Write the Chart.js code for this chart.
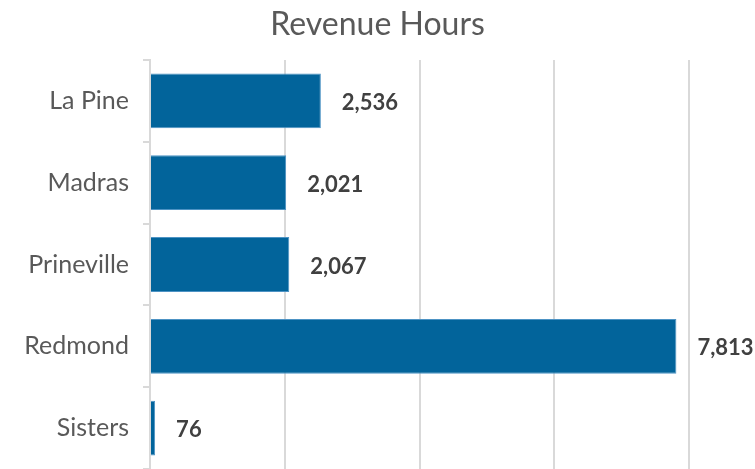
<!DOCTYPE html>
<html>
<head>
<meta charset="utf-8">
<script src="https://cdn.jsdelivr.net/npm/chart.js@4"></script>
<style>
  html, body { margin: 0; padding: 0; background: #fff; }
  #wrap { width: 755px; height: 469px; }
</style>
</head>
<body>
<div id="wrap"><canvas id="chart" width="755" height="469"></canvas></div>
<script>
// Revenue hours by community
const chartTitle = 'Revenue Hours';
const categories = ['La Pine', 'Madras', 'Prineville', 'Redmond', 'Sisters'];
const revenueHours = [2536, 2021, 2067, 7813, 76];
const xTicks = [0, 2000, 4000, 6000, 8000];

const FONT = "Lato, 'Open Sans', sans-serif";

// Title centred on the whole canvas, plus value labels beside the bars
const extras = {
    id: 'extras',
    afterDatasetsDraw(chart) {
        const ctx = chart.ctx;
        const meta = chart.getDatasetMeta(0);
        ctx.save();
        ctx.font = "bold 22px " + FONT;
        ctx.fillStyle = '#404040';
        ctx.textAlign = 'left';
        ctx.textBaseline = 'middle';
        meta.data.forEach((bar, i) => {
            const txt = revenueHours[i].toLocaleString('en-US');
            ctx.fillText(txt, bar.x + 21, bar.y + 2);
        });

        ctx.font = "32px " + FONT;
        ctx.fillStyle = '#595959';
        ctx.textAlign = 'center';
        ctx.fillText(chartTitle, chart.width / 2, 25);
        ctx.restore();
    }
};

new Chart(document.getElementById('chart'), {
    type: 'bar',
    data: {
        labels: categories,
        datasets: [{
            data: revenueHours,
            backgroundColor: '#02649b',
            borderColor: '#4d93c4',
            borderWidth: 1,
            barPercentage: 0.67,
            categoryPercentage: 1
        }]
    },
    options: {
        indexAxis: 'y',
        responsive: false,
        animation: false,
        layout: { padding: { left: 0, right: 66, top: 60, bottom: 0 } },
        scales: {
            x: {
                min: xTicks[0],
                max: xTicks[xTicks.length - 1],
                afterBuildTicks: scale => {
                    scale.ticks = xTicks.map(v => ({ value: v }));
                },
                afterFit: scale => {
                    scale.height = 0;
                    scale.paddingLeft = 0;
                    scale.paddingRight = 0;
                },
                ticks: { display: false },
                border: { display: false },
                grid: { color: '#d9d9d9', lineWidth: 2, drawTicks: false }
            },
            y: {
                afterFit: scale => {
                    scale.width = 150;
                    scale.paddingTop = 0;
                    scale.paddingBottom = 0;
                },
                ticks: {
                    color: '#595959',
                    font: { family: FONT, size: 25 },
                    padding: 14
                },
                border: { color: '#d9d9d9', width: 2 },
                grid: {
                    offset: true,
                    drawOnChartArea: false,
                    drawTicks: true,
                    tickLength: 7,
                    color: '#d9d9d9',
                    lineWidth: 2
                }
            }
        },
        plugins: {
            legend: { display: false },
            tooltip: { enabled: false },
            title: { display: false }
        }
    },
    plugins: [extras]
});
</script>
</body>
</html>
